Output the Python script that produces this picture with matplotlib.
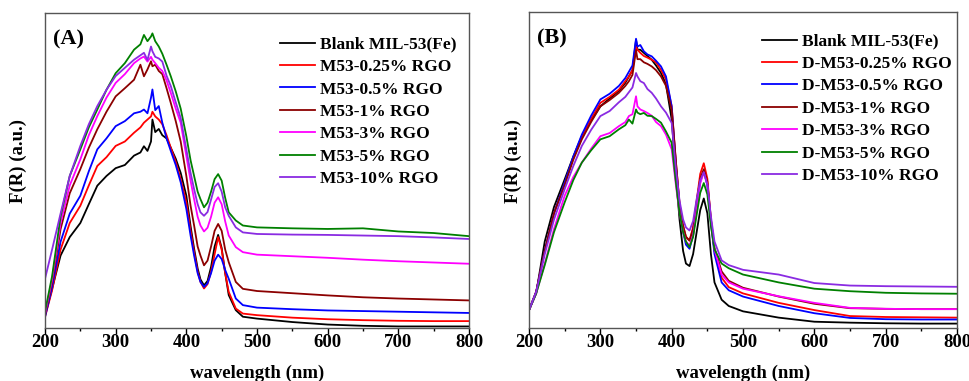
import numpy as np
import matplotlib
matplotlib.use("Agg")
import matplotlib.pyplot as plt

# wavelength grid (nm), shared by all curves
wl = [200, 210, 222, 235, 250, 262, 274, 287, 300, 313, 326, 335, 340, 345, 350, 352, 356, 361, 366, 372,
      378, 385, 392, 400, 406, 411, 416, 420, 425, 430, 435, 440, 445, 450, 455, 460, 470, 480, 500, 550,
      600, 650, 700, 750, 800]

# panel (A) - F(R), arbitrary units
a_blank = [3.6, 12, 22.6, 28.5, 33, 39, 44.9, 48, 50.5, 51.5, 54.5, 55.5, 57.5, 56, 59, 66, 62, 63, 61, 60,
           57, 53.5, 49, 41.7, 32, 24.8, 18.5, 15, 13.1, 14.5, 19, 25.5, 29.2, 25, 17, 10, 5.2, 3.1, 2.5, 1.4,
           0.6, 0.2, 0, 0, 0]
a_025 = [3, 11.5, 24.5, 33, 38.5, 45, 51.2, 54, 57.6, 59, 61.8, 63.5, 65, 66, 67, 68.5, 67, 66, 64.5, 61,
         57, 52.5, 47, 39.6, 30.5, 23.7, 17.5, 14.2, 12.1, 13.5, 17.5, 23, 28.5, 24.5, 17, 11, 5.7, 4.1, 3.6, 2.8,
         2.3, 2, 1.8, 1.7, 1.7]
a_05 = [3, 12.5, 27, 36, 41.7, 49.5, 56.5, 60, 63.9, 65.5, 68, 68.5, 69.2, 68, 73, 75.6, 69, 70.3, 65, 60,
        56, 51.5, 46, 37.5, 29, 22.6, 17, 14.2, 12.6, 13.8, 17, 21, 22.9, 21.5, 18, 15.2, 8.9, 6.8, 6, 5.5,
        5.1, 4.9, 4.7, 4.5, 4.3]
a_1 = [3.6, 14, 31, 42.5, 50.2, 57, 62.9, 68.5, 73.4, 76, 78.7, 83.5, 79.8, 82, 84.6, 83, 83.5, 81.5, 80.5, 76,
       71.3, 65.5, 59, 48, 38.5, 32.2, 25.5, 22.6, 19.5, 21, 25.5, 30.5, 32.7, 30.5, 24.5, 20.5, 14.2, 12, 11.3, 10.6,
       9.9, 9.3, 8.9, 8.6, 8.3]
a_3 = [4.1, 15, 33, 45, 53.3, 61, 67.1, 73, 77.7, 80.5, 84, 85.5, 86.1, 84.5, 86, 85.1, 84, 82.5, 81.5, 78.5,
       74.5, 69.5, 65, 54.4, 46.5, 40.6, 35, 32.2, 30.3, 31.5, 35, 39.5, 41.2, 39, 33.5, 29, 25.3, 23.7, 22.9, 22.4,
       21.9, 21.3, 20.8, 20.4, 20]
a_5 = [4.7, 16, 35, 48, 56.5, 63.5, 69.2, 75.5, 80.8, 84, 88.3, 90, 93, 91, 92.5, 93.5, 91, 89.3, 87, 83.5,
       79.8, 75, 69.5, 60.7, 53, 48, 43, 40.6, 38, 39.5, 43, 47, 48.6, 46.5, 41, 36.4, 33.8, 32.2, 31.6, 31.3,
       31.1, 31.3, 30.3, 29.8, 28.8]
a_10 = [15.2, 24.5, 36, 48, 57.6, 64.5, 70.3, 75.5, 79.9, 82.5, 85.1, 86.5, 87.3, 85, 89.3, 87.8, 86, 85.5, 84.5, 80,
        76.7, 71.5, 66.5, 56.5, 49, 43.8, 39, 36.4, 35.3, 36.5, 40.5, 44.5, 45.7, 43, 38, 35.3, 31.6, 30, 29.5, 29.3,
        29.2, 29, 28.8, 28.4, 27.9]

# panel (B)
b_blank = [5.2, 10.5, 27, 38, 46.8, 54, 60.5, 65.5, 70, 72.5, 75, 77.5, 79.5, 81.5, 91.1, 88, 88, 87, 86, 84.8,
           83, 80.6, 77, 65.8, 47.9, 34, 24, 20, 19.2, 23, 30, 37, 40.7, 36, 23, 14, 8.5, 6.5, 4.8, 2.8,
           1.5, 1.2, 1, 0.9, 0.9]
b_025 = [5.2, 11, 24, 36, 45.5, 53.5, 60, 66, 71.1, 73, 75.3, 78, 79.5, 81.5, 89, 88, 87, 86, 85.5, 84.8,
         84, 81.6, 78.5, 70, 52.1, 39, 32, 28.5, 27.3, 31.5, 40, 48.5, 51.9, 47, 34, 24, 15.5, 12.5, 10.5, 7.5,
         5.2, 3.3, 3, 2.9, 2.8]
b_05 = [5.2, 11, 24, 36, 45.8, 54, 61, 67, 72.2, 74, 76.5, 79, 81, 83, 91.5, 89, 89.5, 87.5, 86.5, 85.9,
        84.5, 82.7, 79.5, 70, 51.1, 38, 30, 26, 24.7, 29, 38, 46, 49.5, 45, 33, 23, 14, 11.5, 9.5, 6.5,
        4.2, 2.7, 2.3, 2.2, 2.2]
b_1 = [5.2, 11, 24, 36, 45, 53, 59.5, 65, 70, 72, 74.3, 76.5, 78, 80, 87.9, 85, 85, 84, 83.5, 82.7,
       81.5, 79.5, 76.5, 68.8, 52.1, 39, 32, 28.5, 27.3, 31, 39.5, 47, 50, 46, 34, 25, 17.5, 14.5, 12.3, 9.5,
       7.2, 5.8, 5.6, 5.5, 5.5]
b_3 = [5.2, 10.5, 20, 31, 41.6, 47.5, 52.1, 56.5, 60.5, 61.5, 63.7, 65, 66.9, 67.5, 73.2, 70, 69, 68.5, 67.9, 67,
       65, 63.7, 61, 56.3, 44.7, 36, 30, 27, 25.7, 29, 37, 45.5, 49, 45, 33, 24.5, 16.5, 14, 12, 9.6,
       7.5, 5.9, 5.6, 5.5, 5.5]
b_5 = [5.2, 10.5, 19.5, 30, 39.5, 46.5, 52.1, 56, 59.5, 60.5, 62.7, 64, 65.8, 64.5, 69, 68, 67.5, 67.9, 67, 66.9,
       66, 64.8, 62, 58.4, 45.7, 36, 30, 27, 25.2, 28.5, 35.5, 42.5, 45.6, 42, 32, 24.5, 20, 18.5, 16.5, 14,
       12, 11.2, 10.7, 10.5, 10.4]
b_10 = [5.2, 11, 23, 34, 43.7, 51, 57.4, 62.5, 66.9, 68.5, 71.3, 73, 74.5, 76, 80.6, 79.5, 78, 77.4, 75.5, 74.3,
        72.5, 70, 68, 64.7, 49.9, 40, 34, 31.5, 30.5, 33.5, 40.5, 46.5, 49, 45, 35, 27, 21, 19.5, 18, 16.5,
        13.8, 13, 12.8, 12.7, 12.6]

labels_a = ["Blank MIL-53(Fe)", "M53-0.25% RGO", "M53-0.5% RGO", "M53-1% RGO",
            "M53-3% RGO", "M53-5% RGO", "M53-10% RGO"]
labels_b = ["Blank MIL-53(Fe)", "D-M53-0.25% RGO", "D-M53-0.5% RGO", "D-M53-1% RGO",
            "D-M53-3% RGO", "D-M53-5% RGO", "D-M53-10% RGO"]
colors = ["black", "#ff0000", "#0000ff", "#8b0000", "#ff00ff", "#008000", "#8a2be2"]

plt.rcParams.update({
    "font.family": ["Liberation Serif", "DejaVu Serif"],
    "font.weight": "bold",
})

fig = plt.figure(figsize=(9.7, 3.81), dpi=100)
axA = fig.add_axes([0.0464, 0.1391, 0.4371, 0.8268])
axB = fig.add_axes([0.5454, 0.1391, 0.4412, 0.8294])

panels = [
    (axA, [a_blank, a_025, a_05, a_1, a_3, a_5, a_10], labels_a, "(A)", 0.554, 0.925, -0.064),
    (axB, [b_blank, b_025, b_05, b_1, b_3, b_5, b_10], labels_b, "(B)", 0.544, 0.932, -0.037),
]

for ax, series, labels, tag, lx, ly, yl in panels:
    for ys, lab, c in zip(series, labels, colors):
        ax.plot(wl, ys, color=c, lw=1.3, label=lab)

    ax.set_xlim(200, 800)
    ax.set_ylim(-0.5, 100)
    ax.set_xticks([200, 300, 400, 500, 600, 700, 800])
    ax.set_xticks([250, 350, 450, 550, 650, 750], minor=True)
    ax.set_yticks([])
    ax.tick_params(axis="x", which="major", direction="out", length=4, width=1, pad=0.5, labelsize=13.5)
    ax.tick_params(axis="x", which="minor", direction="out", length=2, width=1)
    for sp in ax.spines.values():
        sp.set_color("#555555")
        sp.set_linewidth(1)

    ax.set_xlabel("wavelength (nm)", fontsize=13.5, fontweight="bold", labelpad=10)
    ax.text(yl, 0.53, "F(R) (a.u.)", transform=ax.transAxes,
            rotation=90, ha="center", va="center", fontsize=13.5, fontweight="bold")
    ax.text(0.019, 0.917, tag, transform=ax.transAxes, ha="left", va="center",
            fontsize=16, fontweight="bold")

    ax.legend(loc="upper left", bbox_to_anchor=(lx, ly), frameon=False,
              borderpad=0, borderaxespad=0, handlelength=2.0, handletextpad=0.3,
              labelspacing=0.36, prop={"weight": "bold", "size": 12.5})

fig.savefig("out.png", dpi=100)
